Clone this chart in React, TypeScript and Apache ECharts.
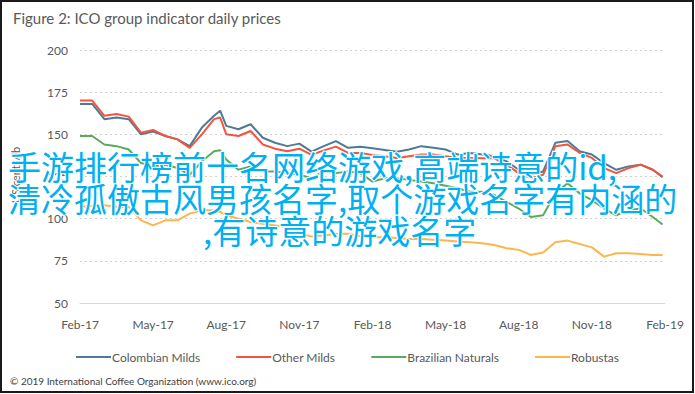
import React, { useEffect, useRef } from "react";
import * as echarts from "echarts";

const months = [0, 0.5, 1, 1.5, 2, 2.5, 3, 3.5, 4, 4.5, 5, 5.5, 5.75, 6, 6.5, 7, 7.5, 8, 8.5, 9, 9.5, 10, 10.5, 11, 11.5, 12, 12.5, 13, 13.5, 14, 14.5, 15, 15.5, 16, 16.5, 17, 17.5, 18, 18.5, 19, 19.5, 20, 20.5, 21, 21.5, 22, 22.5, 23, 23.5, 23.9];

const colombianMilds = [168, 168, 159, 160, 159, 150, 151.6, 149, 147, 143, 154, 161, 164, 155, 153, 156, 148, 145, 143, 144.5, 139.7, 143, 146, 142, 142.7, 141.7, 140.7, 139.7, 141, 143, 142, 141, 138, 139, 138, 137, 134, 129, 126, 128, 145, 146, 140, 138, 133, 129, 131, 132, 129, 124.6];

const otherMilds = [170, 170, 161, 162, 160.5, 151, 152.6, 149, 147, 142, 150, 159, 160, 150, 149, 152, 144, 141.5, 140, 141.5, 137.8, 140.5, 142.7, 139, 139, 137.8, 137, 136, 137, 138, 138, 137, 136, 136, 135.8, 135.8, 132, 127, 124, 126, 143, 144, 139, 136, 130, 127, 130, 132, 129, 124.9];

const brazilianNaturals = [149, 149, 144, 143, 141, 133, 131, 132, 130, 126, 134, 140, 140.5, 135, 129, 131, 128, 128, 127, 126, 124, 128, 127, 128, 127, 122, 124, 124, 123, 122, 121, 119.5, 118, 116, 116, 114, 110, 106, 101, 102, 115, 121, 115, 111, 106, 102, 105, 106, 101, 96.5];

const robustas = [107, 107.5, 108, 107, 107, 99, 96, 99, 99, 103, 105, 105, 104, 102, 100, 98, 97, 96, 95, 91, 89.5, 90, 91, 91, 89.5, 89, 89, 88.5, 88, 88, 87.5, 87, 86.5, 86, 85.4, 84.4, 82.5, 81.5, 78.5, 80, 86, 87, 85, 83, 77.5, 79.5, 79.5, 79, 78.5, 78.5];

const tickLabels = ["Feb-17", "May-17", "Aug-17", "Nov-17", "Feb-18", "May-18", "Aug-18", "Nov-18", "Feb-19"];

const seriesNames = ["Colombian Milds", "Other Milds", "Brazilian Naturals", "Robustas"];
const seriesColors = ["#4F7A96", "#F2553F", "#5BAA5C", "#FDB64E"];

const overlayLines = [
  "手游排行榜前十名网络游戏,高端诗意的id,",
  "清冷孤傲古风男孩名字,取个游戏名字有内涵的",
  ",有诗意的游戏名字",
];

export default function App() {
  const ref = useRef<HTMLDivElement>(null);
  useEffect(() => {
    if (!ref.current) return;
    const chart = echarts.init(ref.current, null, { renderer: "svg" });
    const values = [colombianMilds, otherMilds, brazilianNaturals, robustas];
    const font = "Lato, 'Liberation Sans', sans-serif";
    chart.setOption({
      animation: false,
      backgroundColor: "#ffffff",
      title: {
        text: "Figure 2: ICO group indicator daily prices",
        left: 8,
        top: 5,
        textStyle: { fontSize: 15, fontWeight: "normal", color: "#595959", fontFamily: font },
      },
      grid: { left: 80, right: 30, top: 50, bottom: 91 },
      xAxis: {
        type: "value",
        min: 0,
        max: 24,
        interval: 3,
        axisLine: { show: true, lineStyle: { color: "#D9D9D9", width: 1 } },
        axisTick: { show: false },
        splitLine: { show: false },
        axisLabel: {
          margin: 15,
          fontSize: 12,
          color: "#595959",
          fontFamily: font,
          formatter: (v: number) => tickLabels[Math.round(v / 3)] ?? "",
        },
      },
      yAxis: {
        type: "value",
        min: 50,
        max: 200,
        interval: 25,
        axisLine: { show: false },
        axisTick: { show: false },
        splitLine: { show: true, lineStyle: { color: "#D0D0D0", type: [2, 3], width: 1 } },
        axisLabel: { margin: 12, fontSize: 12, color: "#595959", fontFamily: font },
      },
      legend: {
        top: 346,
        left: "center",
        icon: "rect",
        itemWidth: 35,
        itemHeight: 2,
        itemGap: 36,
        textStyle: { fontSize: 12, color: "#595959", fontFamily: font, padding: [0, 0, 0, -4] },
        data: seriesNames,
      },
      series: seriesNames.map((name, i) => ({
        name,
        type: "line",
        showSymbol: false,
        symbol: "none",
        color: seriesColors[i],
        lineStyle: { width: 2, color: seriesColors[i] },
        data: months.map((m, j) => [m, values[i][j]]),
      })),
      graphic: [
        {
          type: "rect",
          shape: { x: 1, y: 1, width: 692, height: 391 },
          style: { fill: "none", stroke: "#1a1a1a", lineWidth: 2 },
          z: 100,
        },
        {
          type: "text",
          x: 15,
          y: 175,
          rotation: Math.PI / 2,
          style: {
            text: "US cents/lb",
            fontSize: 11,
            fill: "#595959",
            fontFamily: font,
            align: "center",
            verticalAlign: "middle",
          },
        },
        {
          type: "text",
          x: 10,
          y: 381,
          style: {
            text: "© 2019 International Coffee Organization (www.ico.org)",
            fontSize: 10,
            fill: "#404040",
            fontFamily: font,
            verticalAlign: "middle",
          },
        },
        ...overlayLines.map((t, i) => ({
          type: "text",
          x: i === 2 ? 203 : 8,
          y: 166 + i * 32,
          z: 50,
          style: {
            text: t,
            fontSize: 33,
            fill: "#00B0F0",
            fontFamily: "'Noto Sans CJK SC', sans-serif",
            verticalAlign: "middle",
            stroke: "#ffffff",
            lineWidth: 2,
          },
        })),
      ],
    });
    return () => chart.dispose();
  }, []);
  return (
    <div
      ref={ref}
      style={{ position: "fixed", left: 0, top: 0, width: 695, height: 394, background: "#fff" }}
    />
  );
}
